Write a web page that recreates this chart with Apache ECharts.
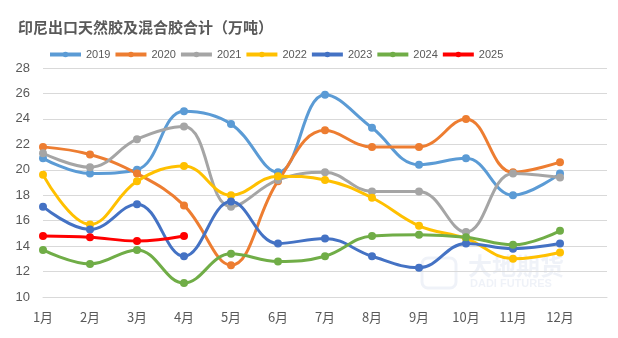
<!DOCTYPE html>
<html>
<head>
<meta charset="utf-8">
<script src="https://cdn.jsdelivr.net/npm/echarts@6/dist/echarts.min.js"></script>
<style>
  html, body { margin: 0; padding: 0; background: #fff; }
  #chart { width: 618px; height: 338px; }
</style>
</head>
<body>
<div id="chart"></div>
<script>
// 月份（最后一个空位留出右侧空白）
const months = ['1月', '2月', '3月', '4月', '5月', '6月', '7月', '8月', '9月', '10月', '11月', '12月', ''];

// 各年度出口量（万吨）
const y2019 = [20.9, 19.7, 20.0, 24.6, 23.6, 19.8, 25.9, 23.3, 20.4, 20.9, 18.0, 19.7];
const y2020 = [21.8, 21.2, 19.7, 17.2, 12.5, 19.1, 23.1, 21.8, 21.8, 24.0, 19.8, 20.6];
const y2021 = [21.3, 20.2, 22.4, 23.4, 17.1, 19.2, 19.8, 18.3, 18.3, 15.1, 19.7, 19.4];
const y2022 = [19.6, 15.7, 19.1, 20.3, 18.0, 19.5, 19.2, 17.8, 15.6, 14.6, 13.0, 13.5];
const y2023 = [17.1, 15.3, 17.3, 13.2, 17.5, 14.2, 14.6, 13.2, 12.3, 14.2, 13.8, 14.2];
const y2024 = [13.7, 12.6, 13.7, 11.1, 13.4, 12.8, 13.2, 14.8, 14.9, 14.7, 14.1, 15.2];
const y2025 = [14.8, 14.7, 14.4, 14.8];

const seriesDefs = [
  { name: '2019', data: y2019, color: '#5B9BD5' },
  { name: '2020', data: y2020, color: '#ED7D31' },
  { name: '2021', data: y2021, color: '#A5A5A5' },
  { name: '2022', data: y2022, color: '#FFC000' },
  { name: '2023', data: y2023, color: '#4472C4' },
  { name: '2024', data: y2024, color: '#70AD47' },
  { name: '2025', data: y2025, color: '#FF0000' }
];

const chart = echarts.init(document.getElementById('chart'));
chart.setOption({
  animation: false,
  title: {
    text: '印尼出口天然胶及混合胶合计（万吨）',
    left: 13,
    top: 15,
    textStyle: { fontSize: 15, fontWeight: 'bold', color: '#595959', fontFamily: 'Noto Sans CJK SC' }
  },
  legend: {
    left: 43,
    top: 44,
    itemWidth: 31,
    itemHeight: 7,
    itemGap: 3,
    lineStyle: { width: 4 },
    textStyle: { fontSize: 11, color: '#595959', fontFamily: 'Liberation Sans' },
    data: seriesDefs.map(s => s.name)
  },
  grid: { left: 43, right: 11, top: 68, bottom: 41 },
  xAxis: {
    type: 'category',
    data: months,
    boundaryGap: false,
    axisLine: { lineStyle: { color: '#D9D9D9' } },
    axisTick: { show: false },
    axisLabel: { color: '#595959', fontSize: 13, margin: 14, fontFamily: 'Noto Sans CJK SC' },
    splitLine: { show: false }
  },
  yAxis: {
    type: 'value',
    min: 10,
    max: 28,
    interval: 2,
    axisLine: { show: false },
    axisTick: { show: false },
    axisLabel: { color: '#595959', fontSize: 13, margin: 13, fontFamily: 'Liberation Sans' },
    splitLine: { lineStyle: { color: '#D9D9D9', width: 1 } }
  },
  graphic: [
    {
      type: 'text', left: 468, top: 254,
      style: { text: '大地期货', fontSize: 24, fontWeight: 'bold', fill: 'rgba(120,150,200,0.12)', fontFamily: 'Noto Sans CJK SC' }
    },
    {
      type: 'text', left: 470, top: 278,
      style: { text: 'DADI FUTURES', fontSize: 11, fontWeight: 'bold', fill: 'rgba(120,150,200,0.12)', fontFamily: 'Liberation Sans' }
    },
    {
      type: 'rect', shape: { x: 422, y: 258, width: 34, height: 30, r: 6 },
      style: { fill: 'none', stroke: 'rgba(120,150,200,0.12)', lineWidth: 3 }
    }
  ],
  series: seriesDefs.map(s => ({
    name: s.name,
    type: 'line',
    data: s.data,
    smooth: 0.4,
    symbol: 'circle',
    symbolSize: 8,
    showSymbol: true,
    lineStyle: { width: 3, color: s.color },
    itemStyle: { color: s.color }
  }))
});
</script>
</body>
</html>
